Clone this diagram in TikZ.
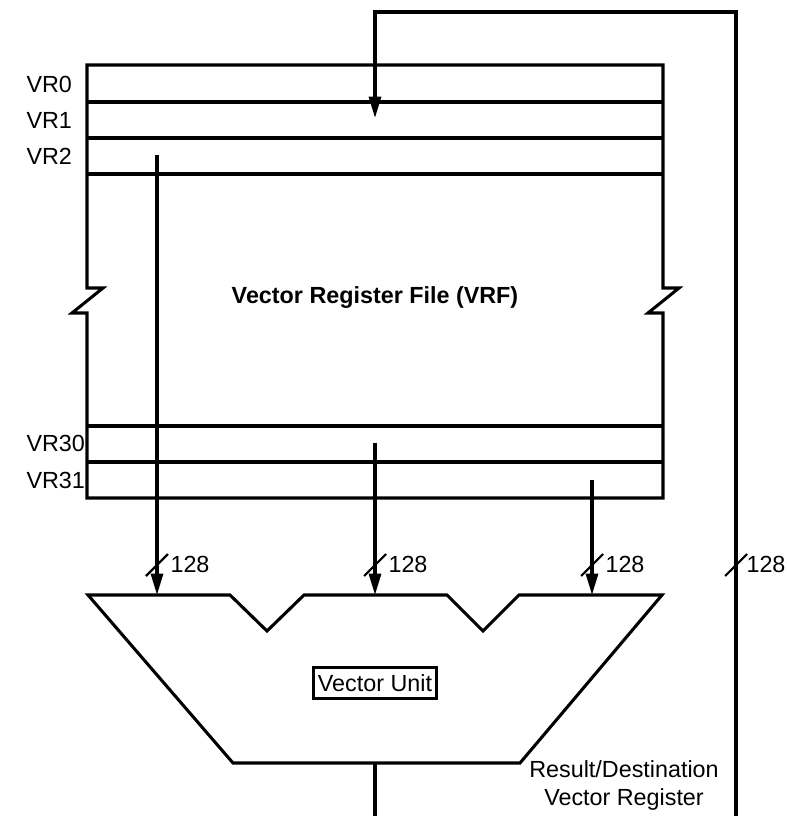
\documentclass[tikz,border=0pt]{standalone}
\usepackage{fontspec}
\setmainfont{Liberation Sans}
\usetikzlibrary{arrows.meta}
\begin{document}
\begin{tikzpicture}[x=0.75pt,y=-0.75pt,line width=2.3pt,
  lbl/.style={font=\fontsize{17.5}{21}\selectfont,inner sep=0pt},
  arr/.style={-{Triangle[width=9pt,length=16pt]}},
  slash/.style={line width=1.6pt}]
\useasboundingbox (0,0) rectangle (786,816);
% Vector register file outline with break marks
\draw (87,65) -- (663,65) -- (663,288) -- (679,288) -- (648,313) -- (663,313)
      -- (663,498) -- (87,498) -- (87,313) -- (72,313) -- (103,288) -- (87,288) -- cycle;
\foreach \yy in {102,138,174,426,462} \draw (87,\yy) -- (663,\yy);
% row labels
\node[lbl,anchor=west] (vr0) at (25,84) {VR0};
\node[lbl,anchor=west] (vr1) at (25,120) {VR1};
\node[lbl,anchor=west] (vr2) at (25,156) {VR2};
\node[lbl,anchor=west] (vr30) at (25,443) {VR30};
\node[lbl,anchor=west] (vr31) at (25,480) {VR31};
\node[lbl,font=\bfseries\fontsize{17.5}{21}\selectfont] (vrf) at (375,298) {Vector Register File (VRF)};
% vector unit shape
\draw (88,595) -- (230,595) -- (267,631) -- (304,595) -- (447,595) -- (483,631)
      -- (519,595) -- (662,595) -- (520,763) -- (233,763) -- cycle;
\node[lbl,draw,line width=2.3pt,inner xsep=3pt,inner ysep=5pt] (vu) at (375,683) {Vector Unit};
% source / target points
\coordinate (s1) at (157,155);
\coordinate (s2) at (375,443);
\coordinate (s3) at (592,480);
\coordinate (t1) at (157,595);
\coordinate (t2) at (375,595);
\coordinate (t3) at (592,595);
\coordinate (out) at (375,763);
\coordinate (outend) at (375,816);
\coordinate (fbstart) at (736,816);
\coordinate (fbc1) at (736,12);
\coordinate (fbc2) at (375,12);
\coordinate (wr) at (375,118);
\draw[arr] (s1) -- (t1);
\draw[arr] (s2) -- (t2);
\draw[arr] (s3) -- (t3);
\draw (out) -- (outend);
\draw[arr] (fbstart) -- (fbc1) -- (fbc2) -- (wr);
% width marks
\foreach \xx/\nm/\dx in {157/a/12,375/b/12,592/c/12,736/d/9}{
  \draw[slash] (\xx-11,576) -- (\xx+11,554);
  \node[lbl,anchor=west] (w\nm) at (\xx+\dx,564) {128};
}
\node[lbl,align=center] (res) at (624,785) {Result/Destination\\Vector Register};
\end{tikzpicture}
\end{document}
